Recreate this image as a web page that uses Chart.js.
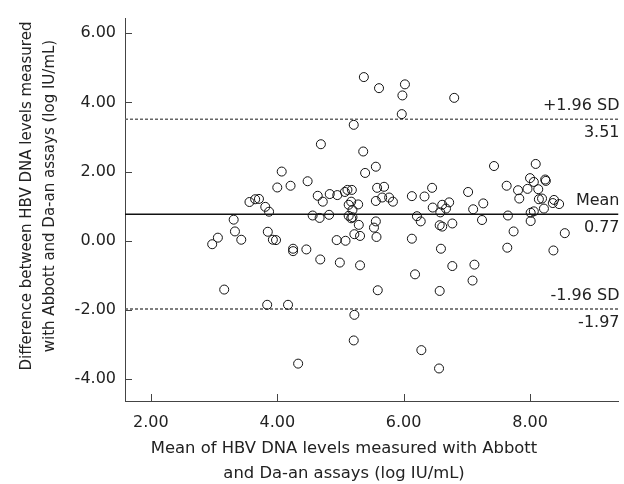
<!DOCTYPE html>
<html>
<head>
<meta charset="utf-8">
<script src="https://cdn.jsdelivr.net/npm/chart.js@4.4.1/dist/chart.umd.min.js"></script>
<style>
  html, body { margin: 0; padding: 0; background: #fff; }
  #wrap { width: 624px; height: 484px; }
</style>
</head>
<body>
<div id="wrap"><canvas id="baChart" width="624" height="484"></canvas></div>
<script>
// mean of the two assays (log IU/mL)
const means = [
  2.97, 3.06, 3.16, 3.31, 3.33, 3.43, 3.56, 3.65, 3.71, 3.81,
  3.87, 3.85, 3.93, 3.98, 3.84, 4.00, 4.07, 4.21, 4.17, 4.25,
  4.25, 4.33, 4.46, 4.48, 4.56, 4.64, 4.67, 4.68, 4.69, 4.72,
  4.82, 4.83, 4.94, 4.95, 4.99, 5.07, 5.08, 5.11, 5.13, 5.13,
  5.17, 5.17, 5.18, 5.19, 5.19, 5.21, 5.21, 5.22, 5.22, 5.28,
  5.29, 5.31, 5.31, 5.36, 5.37, 5.39, 5.53, 5.56, 5.56, 5.56,
  5.57, 5.58, 5.59, 5.61, 5.66, 5.69, 5.77, 5.83, 5.97, 5.98,
  6.02, 6.13, 6.13, 6.18, 6.21, 6.27, 6.28, 6.33, 6.45, 6.46,
  6.56, 6.57, 6.57, 6.58, 6.59, 6.61, 6.61, 6.67, 6.72, 6.77,
  6.77, 6.80, 7.02, 7.09, 7.10, 7.12, 7.24, 7.26, 7.43, 7.63,
  7.64, 7.65, 7.74, 7.81, 7.83, 7.96, 8.00, 8.01, 8.01, 8.06,
  8.06, 8.09, 8.13, 8.14, 8.19, 8.22, 8.24, 8.25, 8.36, 8.37,
  8.38, 8.46, 8.55
];
// difference between the two assays (log IU/mL)
const diffs = [
  -0.10, 0.09, -1.41, 0.61, 0.27, 0.03, 1.12, 1.20, 1.21, 0.98,
  0.84, 0.26, 0.03, 0.02, -1.85, 1.54, 2.00, 1.59, -1.85, -0.23,
  -0.30, -3.55, -0.25, 1.72, 0.73, 1.30, 0.66, -0.54, 2.79, 1.13,
  0.75, 1.35, 0.02, 1.32, -0.63, 1.41, 0.00, 1.47, 1.04, 0.72,
  1.13, 0.65, 1.47, 0.89, 0.68, 3.35, -2.88, 0.19, -2.14, 1.05,
  0.46, 0.14, -0.71, 2.58, 4.73, 1.96, 0.38, 2.14, 1.15, 0.56,
  0.11, 1.53, -1.43, 4.41, 1.25, 1.56, 1.25, 1.13, 3.66, 4.20,
  4.52, 1.29, 0.06, -0.97, 0.71, 0.56, -3.16, 1.28, 1.53, 0.96,
  -3.69, 0.45, -1.45, 0.82, -0.23, 1.04, 0.41, 0.93, 1.11, 0.50,
  -0.73, 4.13, 1.41, -1.15, 0.91, -0.69, 0.60, 1.08, 2.16, 1.59,
  -0.20, 0.73, 0.27, 1.46, 1.22, 1.50, 1.81, 0.81, 0.57, 1.70,
  0.85, 2.22, 1.49, 1.20, 1.22, 0.93, 1.77, 1.73, 1.09, -0.28,
  1.18, 1.06, 0.22
];

const meanDiff = 0.77;
const upperLimit = 3.51;
const lowerLimit = -1.97;

const xTicks = [2, 4, 6, 8];
const yTicks = [-4, -2, 0, 2, 4, 6];
const xRange = [1.59, 9.40];
const yRange = [-4.63, 6.42];

const xTitle = ["Mean of HBV DNA levels measured with Abbott", "and Da-an assays (log IU/mL)"];
const yTitle = ["Difference between HBV DNA levels measured", "with Abbott and Da-an assays (log IU/mL)"];

const FONT = "'DejaVu Sans', Verdana, sans-serif";
const AXIS = "#444";

const points = means.map((m, i) => ({ x: m, y: diffs[i] }));
const hline = (v) => [{ x: xRange[0], y: v }, { x: xRange[1], y: v }];

// inward tick marks, limit labels and the two axis titles
const extras = {
  id: "extras",
  afterDraw(chart) {
    const ctx = chart.ctx;
    const { x, y } = chart.scales;
    const area = chart.chartArea;
    ctx.save();
    ctx.strokeStyle = AXIS;
    ctx.lineWidth = 1;
    x.ticks.forEach((t) => {
      const px = Math.round(x.getPixelForValue(t.value)) + 0.5;
      ctx.beginPath();
      ctx.moveTo(px, area.bottom);
      ctx.lineTo(px, area.bottom - 7);
      ctx.stroke();
    });
    y.ticks.forEach((t) => {
      const py = Math.round(y.getPixelForValue(t.value)) + 0.5;
      ctx.beginPath();
      ctx.moveTo(area.left, py);
      ctx.lineTo(area.left + 7, py);
      ctx.stroke();
    });

    ctx.fillStyle = "#222";
    ctx.font = "16px " + FONT;
    ctx.textAlign = "right";
    ctx.textBaseline = "middle";
    const rx = area.right + 1;
    [
      ["+1.96 SD", upperLimit.toFixed(2), upperLimit],
      ["Mean", meanDiff.toFixed(2), meanDiff],
      ["-1.96 SD", lowerLimit.toFixed(2), lowerLimit],
    ].forEach(([above, below, v]) => {
      const py = y.getPixelForValue(v);
      ctx.fillText(above, rx, py - 13.5);
      ctx.fillText(below, rx, py + 13.5);
    });

    ctx.textAlign = "center";
    ctx.font = "16.4px " + FONT;
    ctx.fillText(xTitle[0], 344, 449);
    ctx.fillText(xTitle[1], 344, 474);

    ctx.save();
    ctx.font = "15px " + FONT;
    ctx.translate(27, 196);
    ctx.rotate(-Math.PI / 2);
    ctx.fillText(yTitle[0], 0, 0);
    ctx.fillText(yTitle[1], 0, 23);
    ctx.restore();
    ctx.restore();
  },
};

new Chart(document.getElementById("baChart"), {
  type: "scatter",
  data: {
    datasets: [
      {
        label: "Samples",
        data: points,
        pointRadius: 4.5,
        pointBorderWidth: 1,
        pointBorderColor: "#111",
        pointBackgroundColor: "rgba(0,0,0,0)",
        order: 0,
      },
      {
        type: "line",
        label: "Mean",
        data: hline(meanDiff),
        borderColor: "#111",
        borderWidth: 1.5,
        pointRadius: 0,
        order: 1,
      },
      {
        type: "line",
        label: "+1.96 SD",
        data: hline(upperLimit),
        borderColor: "#666",
        borderWidth: 1.5,
        borderDash: [3, 2],
        pointRadius: 0,
        order: 1,
      },
      {
        type: "line",
        label: "-1.96 SD",
        data: hline(lowerLimit),
        borderColor: "#555",
        borderWidth: 1.5,
        borderDash: [3, 2],
        pointRadius: 0,
        order: 1,
      },
    ],
  },
  options: {
    responsive: false,
    animation: false,
    layout: { padding: { top: 13, right: 3, left: 0, bottom: 0 } },
    plugins: {
      legend: { display: false },
      tooltip: { enabled: false },
    },
    scales: {
      x: {
        type: "linear",
        min: xRange[0],
        max: xRange[1],
        afterBuildTicks: (s) => { s.ticks = xTicks.map((v) => ({ value: v })); },
        afterFit: (s) => { s.height = 83; },
        grid: { display: true, drawOnChartArea: false, drawTicks: false },
        border: { display: true, color: AXIS, width: 1 },
        ticks: {
          padding: 12,
          color: "#222",
          font: { family: FONT, size: 16 },
          callback: (v) => Number(v).toFixed(2),
        },
      },
      y: {
        type: "linear",
        min: yRange[0],
        max: yRange[1],
        afterBuildTicks: (s) => { s.ticks = yTicks.map((v) => ({ value: v })); },
        afterFit: (s) => { s.width = 125; },
        grid: { display: true, drawOnChartArea: false, drawTicks: false },
        border: { display: true, color: AXIS, width: 1 },
        ticks: {
          padding: 9,
          color: "#222",
          font: { family: FONT, size: 16 },
          callback: (v) => Number(v).toFixed(2),
        },
      },
    },
  },
  plugins: [extras],
});
</script>
</body>
</html>
